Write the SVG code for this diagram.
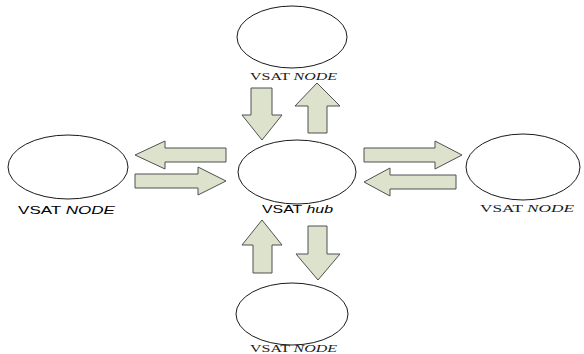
<svg xmlns="http://www.w3.org/2000/svg" width="584" height="354" viewBox="0 0 584 354">
  <style>
    .node { fill: #ffffff; stroke: #1a1a1a; stroke-width: 1; }
    .arrow { fill: #dde2cc; stroke: #505050; stroke-width: 1; stroke-linejoin: miter; }
    .lbl-serif { font-family: "Liberation Serif", "Times New Roman", serif; font-size: 10px; fill: #1a1a1a; }
    .lbl-sans { font-family: "Liberation Sans", Arial, sans-serif; font-size: 11px; fill: #000; }
    .it { font-style: italic; }
  </style>
  <rect width="584" height="354" fill="#ffffff"/>

  <g id="connectors">
    <!-- top pair -->
    <polygon class="arrow" points="251,88 272,88 272,115 282,115 262,140 242,115 251,115"/>
    <polygon class="arrow" points="317,83 340,106 327,106 327,133 308,133 308,106 295,106"/>
    <!-- bottom pair -->
    <polygon class="arrow" points="262,220 282,245 272,245 272,273 253,273 253,245 242,245"/>
    <polygon class="arrow" points="308,226 327,226 327,254 340,254 318,280 296,254 308,254"/>
    <!-- left pair -->
    <polygon class="arrow" points="135,155 165,141 165,148 226,148 226,162 165,162 165,169"/>
    <polygon class="arrow" points="135,174 198,174 198,167 226,181 198,195 198,188 135,188"/>
    <!-- right pair -->
    <polygon class="arrow" points="364,148 435,148 435,141 462,155 435,169 435,162 364,162"/>
    <polygon class="arrow" points="364,182 390,168 390,175 456,175 456,189 390,189 390,196"/>
  </g>

  <g id="node-top">
    <ellipse class="node" cx="292" cy="37" rx="55" ry="31"/>
    <text class="lbl-serif" x="250" y="80" textLength="87" lengthAdjust="spacingAndGlyphs">VSAT <tspan class="it">NODE</tspan></text>
  </g>

  <g id="node-hub">
    <ellipse class="node" cx="297" cy="172" rx="59" ry="32"/>
    <text class="lbl-sans" x="262" y="213" textLength="71" lengthAdjust="spacingAndGlyphs">VSAT <tspan class="it">hub</tspan></text>
  </g>

  <g id="node-left">
    <ellipse class="node" cx="68" cy="167" rx="60" ry="32"/>
    <text class="lbl-sans" x="18" y="214" textLength="97" lengthAdjust="spacingAndGlyphs">VSAT <tspan class="it">NODE</tspan></text>
  </g>

  <g id="node-right">
    <ellipse class="node" cx="523" cy="167" rx="57" ry="33"/>
    <text class="lbl-serif" x="480" y="212" textLength="94" lengthAdjust="spacingAndGlyphs">VSAT <tspan class="it">NODE</tspan></text>
  </g>

  <g id="node-bottom">
    <ellipse class="node" cx="292" cy="314" rx="56" ry="31"/>
    <text class="lbl-serif" x="250" y="352" textLength="87" lengthAdjust="spacingAndGlyphs">VSAT <tspan class="it">NODE</tspan></text>
  </g>
</svg>
